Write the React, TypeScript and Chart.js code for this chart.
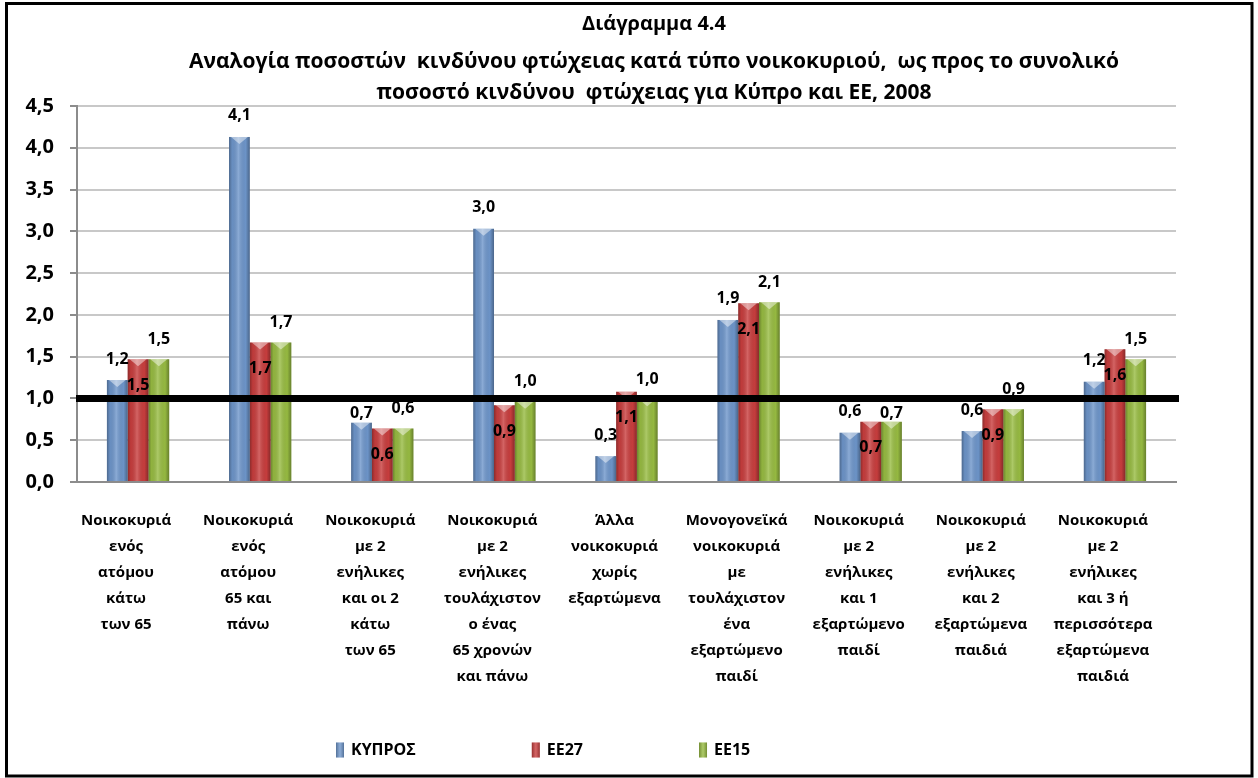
import React, { useEffect, useRef } from 'react';
import { Chart, registerables } from 'chart.js';

Chart.register(...registerables);

const FONT = '"Open Sans", "Noto Sans", sans-serif';

const TITLE_LINES = [
  'Διάγραμμα 4.4',
  'Αναλογία ποσοστών  κινδύνου φτώχειας κατά τύπο νοικοκυριού,  ως προς το συνολικό',
  'ποσοστό κινδύνου  φτώχειας για Κύπρο και ΕΕ, 2008',
];

const CATEGORIES = [
  ['Νοικοκυριά', 'ενός', 'ατόμου', 'κάτω', 'των 65'],
  ['Νοικοκυριά', 'ενός', 'ατόμου', '65 και', 'πάνω'],
  ['Νοικοκυριά', 'με 2', 'ενήλικες', 'και οι 2', 'κάτω', 'των 65'],
  ['Νοικοκυριά', 'με 2', 'ενήλικες', 'τουλάχιστον', 'ο ένας', '65 χρονών', 'και πάνω'],
  ['Άλλα', 'νοικοκυριά', 'χωρίς', 'εξαρτώμενα'],
  ['Μονογονεϊκά', 'νοικοκυριά', 'με', 'τουλάχιστον', 'ένα', 'εξαρτώμενο', 'παιδί'],
  ['Νοικοκυριά', 'με 2', 'ενήλικες', 'και 1', 'εξαρτώμενο', 'παιδί'],
  ['Νοικοκυριά', 'με 2', 'ενήλικες', 'και 2', 'εξαρτώμενα', 'παιδιά'],
  ['Νοικοκυριά', 'με 2', 'ενήλικες', 'και 3 ή', 'περισσότερα', 'εξαρτώμενα', 'παιδιά'],
];

const SERIES_NAMES = ['ΚΥΠΡΟΣ', 'ΕΕ27', 'ΕΕ15'];
const CYPRUS = [1.22, 4.13, 0.71, 3.03, 0.31, 1.94, 0.59, 0.61, 1.2];
const EU27 = [1.47, 1.67, 0.64, 0.92, 1.08, 2.14, 0.72, 0.87, 1.59];
const EU15 = [1.47, 1.67, 0.64, 0.96, 0.99, 2.15, 0.72, 0.87, 1.47];

const Y_MIN = 0;
const Y_MAX = 4.5;
const Y_STEP = 0.5;
const REFERENCE_VALUE = 1;

const COLORS = ['#6E96CB', '#C93E3E', '#98BC42'];
const LABEL_OFFSETS = [-21, 26, -20];

const fmt = (v: number) => v.toFixed(1).replace('.', ',');

const framePlugin = {
  id: 'frame',
  beforeDraw(chart: any) {
    const ctx = chart.ctx;
    ctx.save();
    ctx.fillStyle = '#fff';
    ctx.fillRect(0, 0, chart.width, chart.height);
    ctx.strokeStyle = '#000';
    ctx.lineWidth = 3;
    ctx.strokeRect(6.5, 3.5, 1245.5, 772.5);
    ctx.restore();
  },
};

const barStylePlugin = {
  id: 'barStyle',
  afterDatasetsDraw(chart: any) {
    const ctx = chart.ctx;
    ctx.save();
    chart.data.datasets.forEach((_: any, di: number) => {
      const meta = chart.getDatasetMeta(di);
      meta.data.forEach((el: any) => {
        const { x, y, base, width } = el.getProps(['x', 'y', 'base', 'width'], true);
        const left = x - width / 2;
        const g = ctx.createLinearGradient(left, 0, left + width, 0);
        g.addColorStop(0, 'rgba(0,0,0,0.30)');
        g.addColorStop(0.15, 'rgba(0,0,0,0.05)');
        g.addColorStop(0.45, 'rgba(255,255,255,0.20)');
        g.addColorStop(0.8, 'rgba(0,0,0,0.02)');
        g.addColorStop(1, 'rgba(0,0,0,0.32)');
        ctx.fillStyle = g;
        ctx.fillRect(left, y, width, base - y);
        ctx.fillStyle = 'rgba(255,255,255,0.45)';
        ctx.beginPath();
        ctx.moveTo(left + 2, y);
        ctx.lineTo(left + width - 2, y);
        ctx.lineTo(x, y + 7);
        ctx.closePath();
        ctx.fill();
      });
    });
    ctx.restore();
  },
};

const labelsPlugin = {
  id: 'valueLabels',
  afterDatasetsDraw(chart: any) {
    const ctx = chart.ctx;
    const lineY = chart.scales.y.getPixelForValue(REFERENCE_VALUE);
    ctx.save();
    ctx.font = `bold 16px ${FONT}`;
    ctx.fillStyle = '#000';
    ctx.textAlign = 'center';
    ctx.textBaseline = 'middle';
    chart.data.datasets.forEach((ds: any, di: number) => {
      const meta = chart.getDatasetMeta(di);
      meta.data.forEach((el: any, i: number) => {
        const { x, y } = el.getProps(['x', 'y'], true);
        let ly = y + LABEL_OFFSETS[di];
        if (Math.abs(ly - lineY) < 8) ly = lineY + 15;
        ctx.fillText(fmt(ds.data[i]), x, ly);
      });
    });
    ctx.restore();
  },
};

const refLinePlugin = {
  id: 'refLine',
  afterDatasetsDraw(chart: any) {
    const ctx = chart.ctx;
    const yPx = chart.scales.y.getPixelForValue(REFERENCE_VALUE);
    const { left, right } = chart.chartArea;
    ctx.save();
    ctx.strokeStyle = '#000';
    ctx.lineWidth = 7;
    ctx.beginPath();
    ctx.moveTo(left - 1, yPx);
    ctx.lineTo(right + 3, yPx);
    ctx.stroke();
    ctx.restore();
  },
};

const titlePlugin = {
  id: 'customTitle',
  afterDraw(chart: any) {
    const ctx = chart.ctx;
    ctx.save();
    ctx.fillStyle = '#000';
    ctx.textAlign = 'center';
    ctx.textBaseline = 'alphabetic';
    const baselines = [30, 68, 99];
    const sizes = [20, 21, 21];
    TITLE_LINES.forEach((t, i) => {
      ctx.font = `bold ${sizes[i]}px ${FONT}`;
      ctx.fillText(t, 654, baselines[i]);
    });
    ctx.restore();
  },
};

const legendPlugin = {
  id: 'customLegend',
  afterDraw(chart: any) {
    const ctx = chart.ctx;
    ctx.save();
    ctx.font = `bold 16px ${FONT}`;
    ctx.textBaseline = 'middle';
    ctx.textAlign = 'left';
    let x = 336;
    const cy = 750;
    chart.data.datasets.forEach((ds: any) => {
      ctx.fillStyle = ds.backgroundColor;
      ctx.fillRect(x, cy - 7.5, 8, 15);
      const g = ctx.createLinearGradient(x, 0, x + 8, 0);
      g.addColorStop(0, 'rgba(0,0,0,0.25)');
      g.addColorStop(0.5, 'rgba(255,255,255,0.2)');
      g.addColorStop(1, 'rgba(0,0,0,0.25)');
      ctx.fillStyle = g;
      ctx.fillRect(x, cy - 7.5, 8, 15);
      ctx.fillStyle = '#000';
      ctx.fillText(ds.label, x + 15, cy);
      x += 15 + ctx.measureText(ds.label).width + 116;
    });
    ctx.restore();
  },
};

export default function App() {
  const ref = useRef<HTMLCanvasElement>(null);
  useEffect(() => {
    document.body.style.margin = '0';
    const canvas = ref.current!;
    const seriesData = [CYPRUS, EU27, EU15];
    const chart = new Chart(canvas, {
      type: 'bar',
      data: {
        labels: CATEGORIES,
        datasets: SERIES_NAMES.map((name, i) => ({
          label: name,
          data: seriesData[i],
          backgroundColor: COLORS[i],
          borderWidth: 0,
          categoryPercentage: 0.51,
          barPercentage: 1.0,
        })),
      },
      options: {
        responsive: false,
        animation: false,
        layout: { padding: { left: 7, right: 82, top: 106, bottom: 0 } },
        plugins: {
          legend: { display: false },
          title: { display: false },
          tooltip: { enabled: false },
        },
        scales: {
          x: {
            grid: { display: false, drawTicks: false },
            border: { display: true, color: '#8c8c8c', width: 2 },
            ticks: {
              padding: 26,
              labelOffset: -12,
              maxRotation: 0,
              autoSkip: false,
              color: '#000',
              font: { family: FONT, size: 15, weight: 'bold', lineHeight: '26px' },
            },
            afterFit: (s: any) => {
              s.height = 296;
            },
          },
          y: {
            min: Y_MIN,
            max: Y_MAX,
            ticks: {
              stepSize: Y_STEP,
              padding: 16,
              color: '#000',
              font: { family: FONT, size: 20, weight: 'bold' },
              callback: (v: any) => fmt(Number(v)),
            },
            grid: { color: '#c8c8c8', lineWidth: 2, tickLength: 7, tickColor: '#8c8c8c' },
            border: { color: '#8c8c8c', width: 2 },
            afterFit: (s: any) => {
              s.width = 70;
            },
          },
        },
      } as any,
      plugins: [framePlugin, barStylePlugin, labelsPlugin, refLinePlugin, titlePlugin, legendPlugin],
    });
    return () => chart.destroy();
  }, []);
  return (
    <div style={{ width: 1258, height: 778 }}>
      <canvas ref={ref} width={1258} height={778} style={{ display: 'block' }} />
    </div>
  );
}
